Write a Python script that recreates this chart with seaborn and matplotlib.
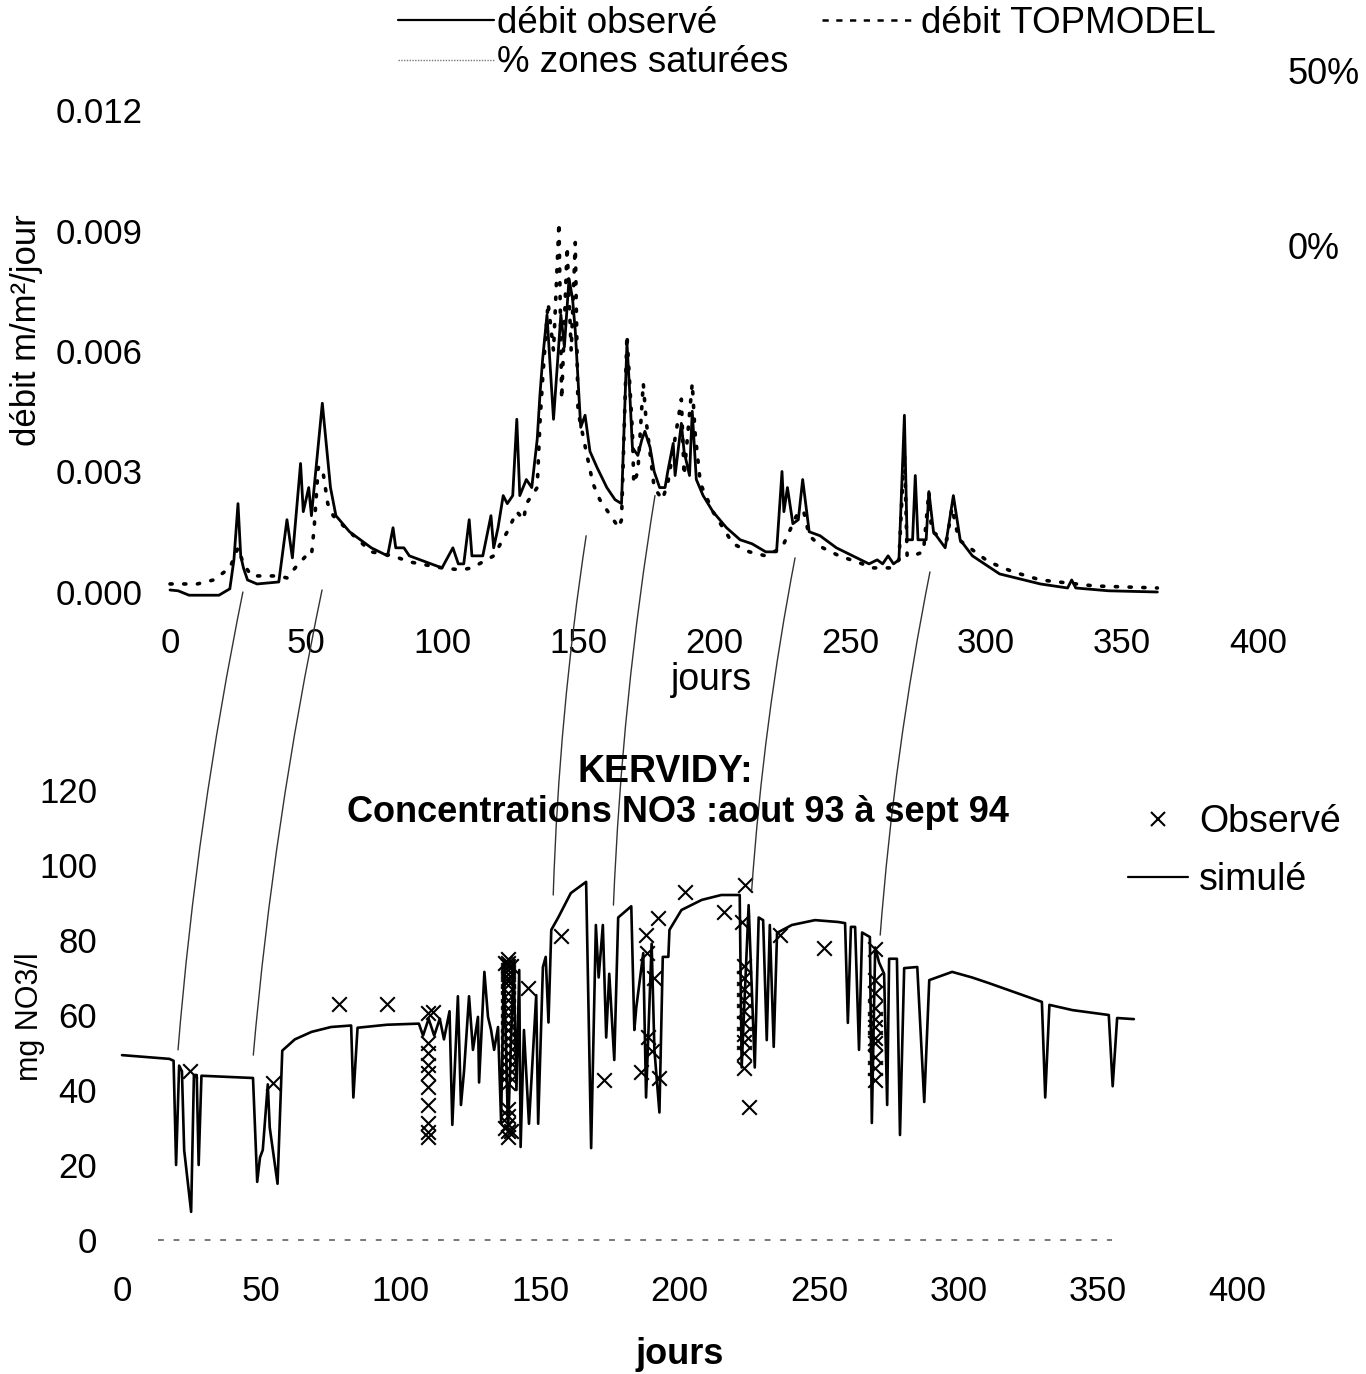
import matplotlib
matplotlib.use("Agg")
import matplotlib.pyplot as plt
import seaborn as sns
from matplotlib.lines import Line2D
from matplotlib.patches import ConnectionPatch

# ---------------- débit (graphe du haut) ----------------
jours_obs = [0, 3, 7, 18, 22, 23.5, 25, 26, 27, 28.5, 32, 40, 43, 45, 48, 49, 51, 52, 56,
             59, 61, 66, 74, 80, 82, 83, 86, 88, 100, 104, 106, 108, 110, 111, 115, 118,
             119, 120.6, 122.5, 124, 126, 127.5, 128.6, 131, 133, 135, 136, 137, 138.6,
             139.7, 141, 143.7, 145, 146.7, 148, 149, 151, 152.6, 154.4, 157, 160.6, 163.6,
             166, 168, 169, 170, 172, 173.5, 174.6, 176.5, 178, 180, 182, 183, 185, 185.7,
             188, 189, 191, 192, 193.5, 196, 199.6, 204.6, 209.6, 214, 219, 223, 225, 225.7,
             227, 229, 231, 232.6, 235, 239, 245, 251, 257, 260, 262, 264, 266, 268, 270,
             271, 273, 274, 275, 278, 279, 280.7, 285, 288, 290.5, 295, 305, 320, 330,
             331.5, 333, 345, 363]
debit_obs = [0.00005, 0.00003, -0.00008, -0.00008, 0.00008, 0.0008, 0.0022, 0.0009, 0.0006,
             0.0003, 0.0002, 0.00025, 0.0018, 0.00085, 0.0032, 0.002, 0.0026, 0.0019, 0.0047,
             0.0026, 0.0019, 0.0015, 0.0011, 0.0009, 0.0016, 0.0011, 0.0011, 0.0009, 0.0006,
             0.0011, 0.0007, 0.0007, 0.0018, 0.0009, 0.0009, 0.0019, 0.0011, 0.0016, 0.0024,
             0.0022, 0.0024, 0.0043, 0.0024, 0.0028, 0.0026, 0.0038, 0.0049, 0.0058, 0.0069,
             0.0057, 0.0043, 0.0069, 0.0061, 0.0078, 0.0073, 0.0065, 0.0041, 0.0044, 0.0035,
             0.0031, 0.0026, 0.0023, 0.0022, 0.0062, 0.005, 0.0036, 0.0034, 0.0038, 0.004,
             0.0036, 0.003, 0.0026, 0.0026, 0.003, 0.0037, 0.0029, 0.0042, 0.0035, 0.0029,
             0.0045, 0.0028, 0.0024, 0.002, 0.0016, 0.0013, 0.0012, 0.001, 0.001, 0.003, 0.002,
             0.0026, 0.0017, 0.0018, 0.0028, 0.0015, 0.0014, 0.0011, 0.0009, 0.0007, 0.0008,
             0.0007, 0.0009, 0.0007, 0.0008, 0.0044, 0.0013, 0.0013, 0.0029, 0.0013, 0.0013,
             0.0025, 0.0015, 0.0011, 0.0024, 0.0013, 0.0009, 0.00045, 0.0002, 0.0001, 0.0003,
             0.0001, 0.00003, 0.0]

jours_topmodel = [0, 10, 16, 18, 22, 25, 27, 30, 40, 43, 46, 50, 52, 53, 54.5, 56, 58, 60, 66,
                  74, 82, 88, 100, 107, 111, 115, 119, 124, 127.5, 130, 131, 135, 136, 137,
                  139, 141, 143, 144, 146, 147.5, 149, 150, 153, 155.5, 158, 161, 165, 166,
                  168, 170, 170.5, 172, 174, 175, 178, 181, 183, 188, 189, 192, 193, 195,
                  199.6, 207, 213, 219, 225, 227, 229, 231, 233, 235, 240, 246, 252.5, 258.5,
                  265, 268, 270, 271, 273, 277, 279, 280, 285.6, 287.5, 290, 296, 301, 310,
                  320, 340, 363]
debit_topmodel = [0.0002, 0.0002, 0.0003, 0.0004, 0.0006, 0.0011, 0.0007, 0.0004, 0.0004,
                  0.00035, 0.0006, 0.0009, 0.0009, 0.0016, 0.0031, 0.0031, 0.0022, 0.0019,
                  0.0015, 0.001, 0.0009, 0.00075, 0.0006, 0.00055, 0.0006, 0.00075, 0.0009,
                  0.0015, 0.002, 0.0018, 0.0022, 0.0026, 0.0042, 0.0053, 0.0072, 0.006,
                  0.0092, 0.0048, 0.0086, 0.006, 0.0087, 0.0045, 0.0035, 0.0027, 0.0023,
                  0.002, 0.0016, 0.0018, 0.0064, 0.004, 0.0027, 0.003, 0.0052, 0.0043,
                  0.0026, 0.0023, 0.0027, 0.0048, 0.0029, 0.0052, 0.004, 0.0027, 0.002,
                  0.0012, 0.001, 0.0009, 0.0011, 0.0014, 0.0017, 0.002, 0.002, 0.0014,
                  0.0011, 0.0009, 0.00075, 0.0006, 0.0006, 0.0008, 0.0036, 0.0009, 0.0009,
                  0.001, 0.0025, 0.0015, 0.0013, 0.0021, 0.0013, 0.001, 0.00075, 0.0005,
                  0.0003, 0.00015, 0.0001]

# ---------------- nitrates (graphe du bas) ----------------
jours_sim = [0, 17, 18.5, 19.4, 20.5, 21.5, 22.3, 24.8, 25.8, 26.8, 27.5, 28.5, 47, 48.5,
             49.5, 50.5, 52.3, 53, 55.8, 57.5, 62, 68, 75, 82.2, 83, 84.5, 95, 106.5, 108,
             110, 112, 114, 115.5, 117.5, 118.5, 120.5, 121.6, 122.7, 124.5, 125.9, 127.7,
             128.1, 130, 131.3, 132.4, 133.5, 134.9, 136, 137, 138.5, 140.5, 141.5, 142.5,
             143, 144.2, 146, 148.6, 149.3, 151, 152, 153, 154, 156.5, 161, 166.5, 168.3,
             170, 171, 172.5, 173.7, 174.8, 176.6, 178, 182.7, 183.8, 184.5, 187, 188, 190,
             191, 192.8, 194, 196, 196.4, 200.7, 208, 215, 221.6, 222.3, 224.8, 227, 228.4,
             230, 231.3, 232.4, 233.8, 235, 240.3, 248.6, 257, 259.4, 260.4, 261.5, 263,
             264.4, 265.5, 268.3, 269, 270.2, 271.6, 273.4, 274.5, 275.2, 278, 279.1, 280.6,
             285.3, 287.8, 289.6, 297.8, 305, 311, 320.5, 330, 331.2, 332.7, 341, 354,
             355.4, 357, 363]
no3_sim = [49.3, 48.3, 47.8, 20, 46.5, 45, 24, 7.5, 44, 44, 20, 43.8, 43.2, 15.5, 22, 24,
           41.5, 30, 15, 50.5, 53.5, 55.5, 56.8, 57.2, 38, 56.6, 57.4, 57.7, 54.5, 59, 54.5,
           59, 53.5, 61, 30.7, 65, 36, 45, 65, 50.7, 59.5, 42, 71.5, 59.5, 56, 50.7, 56.8,
           31.5, 74.5, 29, 74.5, 40, 72, 24.8, 56, 31, 65.3, 31, 72.8, 75.5, 58, 82.7, 86,
           92.5, 95.5, 24.5, 84, 70, 84, 54, 71, 48, 86, 89, 56, 62, 76.5, 38, 79, 50.7, 34,
           75.5, 75.5, 82.7, 88, 90.7, 92, 92, 46, 89.3, 46, 86, 85.3, 53.3, 84, 51.5, 81.9,
           84, 85.3, 84.8, 84.5, 57.9, 83.5, 83.5, 50.7, 82, 80.8, 31.2, 78, 74, 71, 36, 75,
           75, 28, 72.5, 72.8, 36.8, 69.3, 71.5, 70, 68.5, 66, 63.5, 38, 62.7, 61.3, 60, 41,
           59.2, 58.9]

jours_mes = [24.5, 54, 78, 95,
             109.7, 109.7, 109.7, 109.7, 109.7, 109.7, 109.7, 109.7, 109.7, 109.7, 111.5,
             138.5, 138.5, 138.5, 138.5, 138.5, 138.5, 138.5, 138.5, 138.5, 138.5, 138.5,
             138.5, 138.5, 138.5, 138.5, 138.5, 138.5, 138.5, 138.5, 138.5, 138.5, 138.5,
             138.5, 138.5, 138.5, 138.5, 137.5, 139.5, 137.5, 139.5,
             145.7, 157.6, 173,
             186.3, 188, 188.5, 191, 188.8, 190, 192.4, 192.8,
             201.8, 215.8, 223.4, 222.3,
             223, 223, 223, 223, 223, 223, 223, 223, 223, 223, 224.8,
             236, 252, 270,
             270, 270, 270, 270, 270, 270, 270, 270, 270, 270]
no3_mes = [45, 42, 63, 63,
           60.5, 52.5, 50, 46.7, 44.5, 40.8, 36, 31.2, 28.8, 27.5, 60.8,
           75, 74, 73, 72, 71, 70, 69, 68, 66, 64, 62, 60, 58, 56, 54, 52, 50, 48, 46, 44,
           42, 35, 33, 31, 29, 27.5, 74, 73, 30, 29,
           67.2, 81, 42.7,
           44.8, 81.3, 76.5, 70, 54.1, 50.5, 85.9, 43.2,
           92.8, 87.5, 94.7, 84.8,
           73, 70, 67, 64, 61, 58, 55, 52.8, 50, 46, 35.5,
           81.3, 78, 77.5,
           69.3, 66, 62, 59, 56.8, 54, 52.5, 48.8, 46, 42.7]

# ligne pointillée au niveau zéro du graphe du bas
jours_zero = [13, 355]
no3_zero = [0, 0]

# traits tracés à la main reliant les pics de débit aux chutes de NO3
liens_haut = [(26.8, 0.0), (55.9, 0.00005), (153, 0.0014), (178.3, 0.0024),
              (229.8, 0.00085), (279.4, 0.0005)]
liens_bas = [(20.1, 50.7), (47.1, 49.3), (154.7, 92), (176.3, 89.3),
             (225.9, 93.3), (272, 81.3)]

x_ticks = [0, 50, 100, 150, 200, 250, 300, 350, 400]
debit_ticks = [0.0, 0.003, 0.006, 0.009, 0.012]
no3_ticks = [0, 20, 40, 60, 80, 100, 120]
pct_ticks = [0, 50]

sns.set_theme(style="white")
plt.rcParams['font.family'] = ['Liberation Sans', 'DejaVu Sans']
plt.rcParams['text.color'] = 'black'
plt.rcParams['xtick.color'] = 'black'
plt.rcParams['ytick.color'] = 'black'

W, H = 1366, 1374
fig = plt.figure(figsize=(W / 100, H / 100), dpi=100)

# axes placed in pixel units of the original scan
ax_top = fig.add_axes([170 / W, 1 - 592 / H, (1258 - 170) / W, (592 - 110) / H])
ax_pct = fig.add_axes([170 / W, 1 - 592 / H, (1258 - 170) / W, (592 - 60) / H])
ax_bot = fig.add_axes([122 / W, 1 - 1240 / H, (1237 - 122) / W, (1240 - 790) / H])

# top panel
sns.lineplot(x=jours_topmodel, y=debit_topmodel, ax=ax_top, color='black', lw=2.6,
             linestyle=(0, (0.6, 3.2)), dash_capstyle='round', estimator=None, sort=False)
sns.lineplot(x=jours_obs, y=debit_obs, ax=ax_top, color='black', lw=2.0,
             estimator=None, sort=False)
ax_top.set_xlim(0, 400)
ax_top.set_ylim(0, 0.012)
ax_top.set_xticks(x_ticks)
ax_top.set_xticklabels([str(t) for t in x_ticks])
ax_top.set_yticks(debit_ticks)
ax_top.set_yticklabels([f"{t:.3f}" for t in debit_ticks])
ax_top.tick_params(axis='x', length=0, labelsize=25, pad=25)
ax_top.tick_params(axis='y', length=0, labelsize=25, pad=20)
for line in ax_top.lines:
    line.set_clip_on(False)

# right-hand % scale (no visible curve in the scan)
ax_pct.set_ylim(-99.14, 52.86)
ax_pct.set_xlim(0, 400)
ax_pct.yaxis.tick_right()
ax_pct.set_yticks(pct_ticks)
ax_pct.set_yticklabels([f"{t}%" for t in pct_ticks])
ax_pct.set_xticks([])
ax_pct.tick_params(axis='y', length=0, labelsize=26, pad=21)
ax_pct.patch.set_visible(False)

# bottom panel
sns.lineplot(x=jours_zero, y=no3_zero, ax=ax_bot, color='#777777', lw=1.4,
             linestyle=(0, (3, 5)), estimator=None, sort=False)
sns.lineplot(x=jours_sim, y=no3_sim, ax=ax_bot, color='black', lw=1.9,
             estimator=None, sort=False)
sns.scatterplot(x=jours_mes, y=no3_mes, ax=ax_bot, marker='x', s=110, color='black',
                linewidth=1.5, zorder=3, legend=False)
ax_bot.set_xlim(0, 400)
ax_bot.set_ylim(0, 120)
ax_bot.set_xticks(x_ticks)
ax_bot.set_xticklabels([str(t) for t in x_ticks])
ax_bot.set_yticks(no3_ticks)
ax_bot.set_yticklabels([str(t) for t in no3_ticks])
ax_bot.tick_params(axis='x', length=0, labelsize=25, pad=25)
ax_bot.tick_params(axis='y', length=0, labelsize=25, pad=18)
for line in ax_bot.lines:
    line.set_clip_on(False)

for ax in (ax_top, ax_pct, ax_bot):
    for sp in ax.spines.values():
        sp.set_visible(False)
    ax.grid(False)
    ax.set_xlabel('')
    ax.set_ylabel('')

# hand-drawn connector strokes
for (xa, ya), (xb, yb) in zip(liens_haut, liens_bas):
    con = ConnectionPatch(xyA=(xa, ya), coordsA=ax_top.transData,
                          xyB=(xb, yb), coordsB=ax_bot.transData,
                          connectionstyle="arc3,rad=0.03", color='#333333', lw=1.0)
    fig.add_artist(con)

# labels and titles
fig.text(712 / W, 1 - 680 / H, 'jours', ha='center', va='center', fontsize=27)
fig.text(680 / W, 1 - 1355 / H, 'jours', ha='center', va='center', fontsize=26,
         fontweight='bold')
fig.text(27 / W, 1 - 330 / H, 'débit m/m²/jour', rotation=90, ha='center', va='center',
         fontsize=25)
fig.text(30 / W, 1 - 1017 / H, 'mg NO3/l', rotation=90, ha='center', va='center',
         fontsize=22)
fig.text(665 / W, 1 - 772 / H, 'KERVIDY:', ha='center', va='center', fontsize=27,
         fontweight='bold')
fig.text(678 / W, 1 - 812 / H, 'Concentrations NO3 :aout 93 à sept 94', ha='center',
         va='center', fontsize=26, fontweight='bold')

# legends
h_obs = Line2D([], [], color='black', lw=1.6)
h_zones = Line2D([], [], color='#777777', lw=1.0, linestyle=(0, (1, 1)))
h_topm = Line2D([], [], color='black', lw=1.8, linestyle=(0, (2.5, 3)))
fig.legend([h_obs, h_zones, h_topm], ['débit observé', '% zones saturées', 'débit TOPMODEL'],
           ncol=2, loc='upper left', bbox_to_anchor=(398 / W, 1 - 6 / H),
           bbox_transform=fig.transFigure, frameon=False, fontsize=26.5, borderpad=0,
           borderaxespad=0, handlelength=2.6, handletextpad=0.1, labelspacing=0.12,
           columnspacing=0.9)

h_mes = Line2D([], [], color='black', marker='x', ls='none', ms=10, mew=1.5)
h_sim = Line2D([], [], color='black', lw=1.6)
fig.legend([h_mes, h_sim], ['Observé', 'simulé'], loc='upper left',
           bbox_to_anchor=(1128 / W, 1 - 804 / H), bbox_transform=fig.transFigure,
           frameon=False, fontsize=27, borderpad=0, borderaxespad=0, handlelength=1.6,
           handletextpad=0.3, labelspacing=0.6)

fig.savefig('out.png', dpi=100)
